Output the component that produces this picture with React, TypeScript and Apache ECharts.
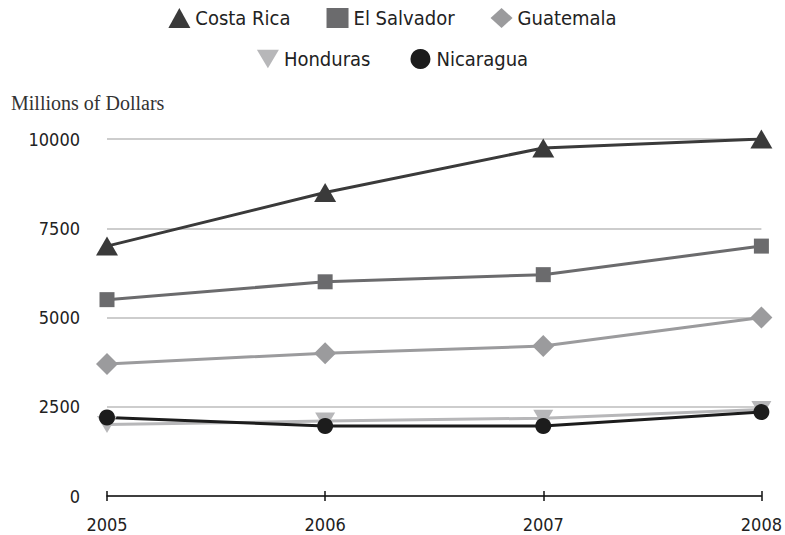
import React, { useEffect, useRef } from "react";
import * as echarts from "echarts";

const years = ["2005", "2006", "2007", "2008"];
const costaRica = [7000, 8500, 9750, 10000];
const elSalvador = [5500, 6000, 6200, 7000];
const guatemala = [3700, 4000, 4200, 5000];
const honduras = [2000, 2100, 2180, 2420];
const nicaragua = [2200, 1960, 1960, 2350];
const yTitle = "Millions of Dollars";

const FONT = "'DejaVu Sans Condensed', 'DejaVu Sans', sans-serif";
const DOWN = "path://M0,0 L2,0 L1,1.7 Z";

export default function App() {
  const ref = useRef<HTMLDivElement>(null);
  useEffect(() => {
    if (!ref.current) return;
    const chart = echarts.init(ref.current, null, { renderer: "svg" });
    const mk = (name: string, data: number[], color: string, symbol: string, size: any) => ({
      name,
      type: "line",
      data,
      symbol,
      symbolSize: size,
      lineStyle: { color, width: 3 },
      itemStyle: { color },
      emphasis: { disabled: true },
    });
    const legendText = { fontFamily: FONT, fontSize: 20, color: "#222" };
    chart.setOption({
      animation: false,
      backgroundColor: "#ffffff",
      title: {
        text: yTitle,
        left: 6,
        top: 88,
        textStyle: { fontFamily: "'Liberation Serif', 'DejaVu Serif', serif", fontWeight: "normal", fontSize: 20, color: "#333" },
      },
      legend: [
        {
          data: [
            { name: "Costa Rica", icon: "triangle" },
            { name: "El Salvador", icon: "rect" },
            { name: "Guatemala", icon: "diamond" },
          ],
          left: "center",
          top: 3,
          itemWidth: 22,
          itemHeight: 20,
          itemGap: 36,
          textStyle: legendText,
        },
        {
          data: [
            { name: "Honduras", icon: DOWN },
            { name: "Nicaragua", icon: "circle" },
          ],
          left: "center",
          top: 44,
          itemWidth: 22,
          itemHeight: 20,
          itemGap: 40,
          textStyle: legendText,
        },
      ],
      grid: { left: 107, right: 20, top: 139, bottom: 39, containLabel: false },
      xAxis: [
        {
          type: "category",
          data: years,
          boundaryGap: false,
          axisLine: { lineStyle: { color: "#111", width: 1.5 } },
          axisTick: { show: true, length: 5, lineStyle: { color: "#111", width: 1.5 } },
          axisLabel: { fontFamily: FONT, fontSize: 18, color: "#222", margin: 19 },
          splitLine: { show: false },
        },
        {
          type: "category",
          data: years,
          boundaryGap: false,
          position: "bottom",
          axisLine: { show: false },
          axisTick: { show: true, inside: true, length: 5, lineStyle: { color: "#111", width: 1.5 } },
          axisLabel: { show: false },
          splitLine: { show: false },
        },
      ],
      yAxis: {
        type: "value",
        min: 0,
        max: 10000,
        interval: 2500,
        axisLine: { show: false },
        axisTick: { show: false },
        axisLabel: { fontFamily: FONT, fontSize: 18, color: "#222", margin: 27, formatter: (v: number) => String(v) },
        splitLine: { lineStyle: { color: "#bdbdbd", width: 1.5 } },
      },
      series: [
        mk("Costa Rica", costaRica, "#3a3a3a", "triangle", [22, 19]),
        mk("El Salvador", elSalvador, "#6b6b6d", "rect", 15),
        mk("Guatemala", guatemala, "#9b9b9d", "diamond", [22, 22]),
        mk("Honduras", honduras, "#b7b7b9", DOWN, [20, 17]),
        mk("Nicaragua", nicaragua, "#1c1c1c", "circle", 16),
      ],
    });
    return () => chart.dispose();
  }, []);
  return <div ref={ref} style={{ position: "absolute", left: 0, top: 0, width: 785, height: 535 }} />;
}
